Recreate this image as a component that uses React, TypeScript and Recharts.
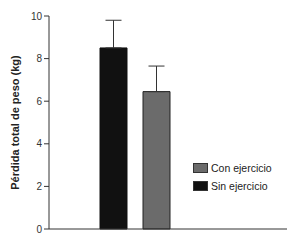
import React from 'react';
import { BarChart, Bar, XAxis, YAxis, ErrorBar } from 'recharts';

const groups = ['Pérdida'];
const sinEjercicio = [8.5];
const sinError = [1.3];
const conEjercicio = [6.45];
const conError = [1.2];
const yTicks = [0, 2, 4, 6, 8, 10];
const legendItems = [
    { name: 'Con ejercicio', color: '#6b6b6b' },
    { name: 'Sin ejercicio', color: '#111111' },
];

const data = groups.map((g, i) => ({
    group: g,
    sin: sinEjercicio[i],
    sinErr: [0, sinError[i]],
    con: conEjercicio[i],
    conErr: [0, conError[i]],
}));

const font = '"Liberation Sans", Arial, Helvetica, sans-serif';

const App: React.FC = () => {
    return (
        <div style={{ position: 'absolute', left: 0, top: 0, width: 296, height: 240, background: '#fff' }}>
            <BarChart width={296} height={240} data={data} margin={{ top: 16, right: 9, bottom: 10, left: 0 }} barGap={16} barCategoryGap={0}>
                <XAxis dataKey="group" tick={false} tickLine={false} height={1} stroke="#333" padding={{ left: 49, right: 115 }} />
                <YAxis
                    domain={[0, 10]}
                    ticks={yTicks}
                    width={49}
                    tickSize={5}
                    stroke="#333"
                    tick={{ fontSize: 10, fill: '#333', fontFamily: font }}
                    label={{
                        value: 'Pérdida total de peso (kg)',
                        angle: -90,
                        position: 'insideLeft',
                        offset: 15,
                        style: { textAnchor: 'middle', fontSize: 11, fontWeight: 'bold', fill: '#222', fontFamily: font },
                    }}
                />
                <Bar dataKey="sin" fill="#111111" stroke="#111" barSize={27} isAnimationActive={false}>
                    <ErrorBar dataKey="sinErr" width={8} stroke="#333" strokeWidth={1} isAnimationActive={false} />
                </Bar>
                <Bar dataKey="con" fill="#6b6b6b" stroke="#222" barSize={27} isAnimationActive={false}>
                    <ErrorBar dataKey="conErr" width={8} stroke="#333" strokeWidth={1} isAnimationActive={false} />
                </Bar>
            </BarChart>
            <div style={{ position: 'absolute', left: 193, top: 159, fontFamily: font, fontSize: 10.5, color: '#222' }}>
                {legendItems.map((item) => (
                    <div key={item.name} style={{ display: 'flex', alignItems: 'center', height: 18 }}>
                        <span style={{ width: 15, height: 10, background: item.color, border: '1px solid #333', boxSizing: 'border-box', marginRight: 3 }} />
                        {item.name}
                    </div>
                ))}
            </div>
        </div>
    );
};

export default App;
